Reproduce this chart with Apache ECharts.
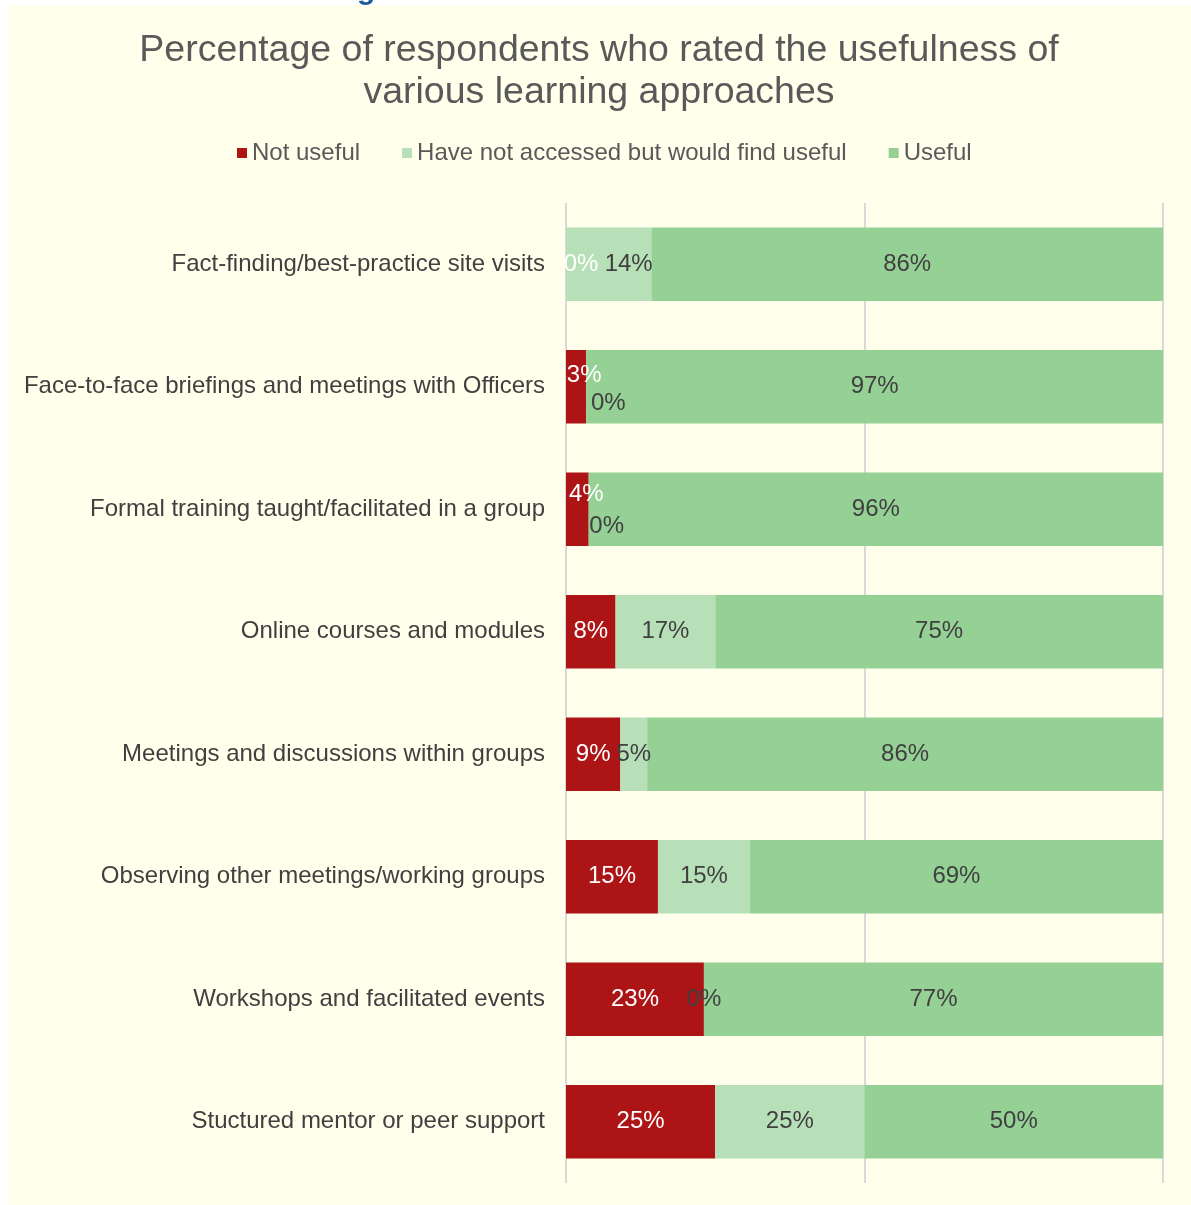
<!DOCTYPE html>
<html>
<head>
<meta charset="utf-8">
<script src="https://cdn.jsdelivr.net/npm/echarts@6/dist/echarts.min.js"></script>
<style>
html,body{margin:0;padding:0;background:#fff;}
#chart{width:1191px;height:1205px;}
</style>
</head>
<body>
<div id="chart"></div>
<script>
var categories = [
  'Fact-finding/best-practice site visits',
  'Face-to-face briefings and meetings with Officers',
  'Formal training taught/facilitated in a group',
  'Online courses and modules',
  'Meetings and discussions within groups',
  'Observing other meetings/working groups',
  'Workshops and facilitated events',
  'Stuctured mentor or peer support'
];
var seriesNames = ['Not useful', 'Have not accessed but would find useful', 'Useful'];
var notUseful = [0, 3.4, 3.8, 8.3, 9.1, 15.4, 23.1, 25];
var haveNotAccessed = [14.3, 0, 0, 16.7, 4.5, 15.4, 0, 25];
var useful = [85.7, 96.6, 96.2, 75, 86.4, 69.2, 76.9, 50];
var xTicks = [0, 50, 100];

var FONT = '"Liberation Sans", Arial, sans-serif';
var colors = ['#AC1416', '#B8E0B8', '#95D095'];
var labelColors = ['#ffffff', '#404040', '#404040'];
// label nudges (Excel moved overlapping labels)
var nudges = [
  {0: [15, 0], 1: [8, -11], 2: [9, -15]},
  {0: [20, 0], 1: [22, 17], 2: [18, 17]},
  {}
];

function buildData(values, si) {
  return values.map(function (v, i) {
    var n = nudges[si][i];
    if (n) {
      return { value: v, label: { offset: n } };
    }
    return v;
  });
}

var allValues = [notUseful, haveNotAccessed, useful];
var series = allValues.map(function (vals, si) {
  return {
    name: seriesNames[si],
    type: 'bar',
    stack: 'total',
    barCategoryGap: '40%',
    data: buildData(vals, si),
    itemStyle: { color: colors[si] },
    label: {
      show: true,
      position: 'inside',
      color: labelColors[si],
      fontFamily: FONT,
      fontSize: 24,
      formatter: function (p) { return Math.round(p.value) + '%'; }
    },
    emphasis: { disabled: true }
  };
});

var chart = echarts.init(document.getElementById('chart'), null, { renderer: 'canvas' });
chart.setOption({
  backgroundColor: '#ffffff',
  animation: false,
  graphic: [
    { type: 'rect', silent: true, z: -100, shape: { x: 8, y: 5, width: 1183, height: 1200 }, style: { fill: '#FFFFEB' } },
    { type: 'text', silent: true, z: -99, x: 357, y: -24, style: { text: 'g', fill: '#1F5C99', font: 'bold 30px ' + FONT } }
  ],
  title: {
    text: 'Percentage of respondents who rated the usefulness of\nvarious learning approaches',
    left: 594,
    top: 25,
    textAlign: 'center',
    textStyle: {
      fontFamily: FONT,
      fontWeight: 'normal',
      fontSize: 37.5,
      lineHeight: 42,
      color: '#595959'
    }
  },
  legend: {
    data: seriesNames,
    left: 232,
    top: 136,
    icon: 'rect',
    itemWidth: 10,
    itemHeight: 10,
    itemGap: 42,
    textStyle: { fontFamily: FONT, fontSize: 24, color: '#595959' },
    selectedMode: false
  },
  grid: { left: 566, right: 28, top: 203, bottom: 22, containLabel: false },
  xAxis: {
    type: 'value',
    min: xTicks[0],
    max: xTicks[xTicks.length - 1],
    interval: xTicks[1] - xTicks[0],
    axisLabel: { show: false },
    axisLine: { show: false },
    axisTick: { show: false },
    splitLine: { show: true, lineStyle: { color: '#D9D9D9', width: 2 } }
  },
  yAxis: {
    type: 'category',
    data: categories,
    inverse: true,
    axisLine: { show: false },
    axisTick: { show: false },
    axisLabel: { margin: 21, fontFamily: FONT, fontSize: 24, color: '#404040' }
  },
  series: series
});
</script>
</body>
</html>
